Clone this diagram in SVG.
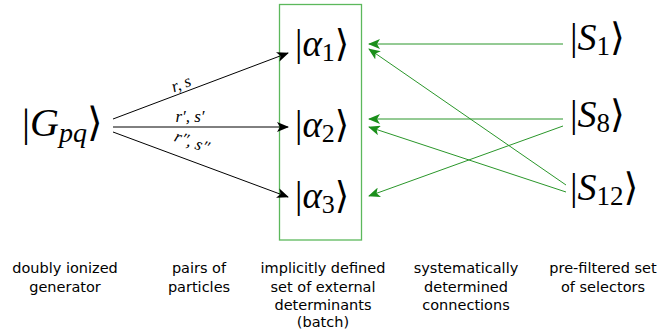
<svg xmlns="http://www.w3.org/2000/svg" width="657" height="331" viewBox="0 0 657 331">
<style>
.m{font-family:"Liberation Serif","DejaVu Serif",serif;fill:#000}
.i{font-style:italic}
.cap{font-family:"DejaVu Sans",sans-serif;font-size:14.5px;fill:#000;text-anchor:middle}
.bl{stroke:#000;stroke-width:1;fill:none}
.gr{stroke:#2a962a;stroke-width:1;fill:none}
.lbl{font-family:"Liberation Serif","DejaVu Serif",serif;font-size:17px;font-style:italic;text-anchor:middle}
</style>
<defs>
<marker id="ab" viewBox="0 0 12 10" refX="11" refY="5" markerWidth="12" markerHeight="10" markerUnits="userSpaceOnUse" orient="auto">
<path d="M0,0 L12,5 L0,10 L3,5 Z" fill="#000"/>
</marker>
<marker id="ag" viewBox="0 0 12 10" refX="11" refY="5" markerWidth="12" markerHeight="10" markerUnits="userSpaceOnUse" orient="auto">
<path d="M0,0 L12,5 L0,10 L3,5 Z" fill="#1a8f1a"/>
</marker>
</defs>
<rect x="279.5" y="4.5" width="82" height="235.5" fill="none" stroke="#5cb85c" stroke-width="1.3"/>
<g id="connectors">
<path class="bl" d="M113,119 L288,53" marker-end="url(#ab)"/>
<path class="bl" d="M113,127 L288,127" marker-end="url(#ab)"/>
<path class="bl" d="M113,132 L288,197" marker-end="url(#ab)"/>
<path class="gr" d="M563,44 L369,44" marker-end="url(#ag)"/>
<path class="gr" d="M566,185 L369,49" marker-end="url(#ag)"/>
<path class="gr" d="M563,119 L369,119" marker-end="url(#ag)"/>
<path class="gr" d="M566,192 L369,127" marker-end="url(#ag)"/>
<path class="gr" d="M563,126 L369,196" marker-end="url(#ag)"/>
<text class="lbl" transform="translate(183,89) rotate(-20.8)">r, s</text>
<text class="lbl" x="190" y="122">r′, s′</text>
<text class="lbl" transform="translate(190,147) rotate(20.5)">r″, s″</text>
</g>
<g id="Gpq"><text class="m" x="22" y="136" font-size="40">|<tspan class="i">G</tspan><tspan class="i" font-size="28" dy="6">pq</tspan><tspan dy="-6">⟩</tspan></text></g>
<g id="alpha1"><text class="m" x="295" y="56" font-size="37">|<tspan class="i">α</tspan><tspan font-size="26" dy="5">1</tspan><tspan dy="-5">⟩</tspan></text></g>
<g id="alpha2"><text class="m" x="295" y="137" font-size="37">|<tspan class="i">α</tspan><tspan font-size="26" dy="5">2</tspan><tspan dy="-5">⟩</tspan></text></g>
<g id="alpha3"><text class="m" x="295" y="208" font-size="37">|<tspan class="i">α</tspan><tspan font-size="26" dy="5">3</tspan><tspan dy="-5">⟩</tspan></text></g>
<g id="S1"><text class="m" x="570" y="50" font-size="38">|<tspan class="i">S</tspan><tspan font-size="27" dy="5">1</tspan><tspan dy="-5">⟩</tspan></text></g>
<g id="S8"><text class="m" x="570" y="127" font-size="38">|<tspan class="i">S</tspan><tspan font-size="27" dy="5">8</tspan><tspan dy="-5">⟩</tspan></text></g>
<g id="S12"><text class="m" x="570" y="200" font-size="38">|<tspan class="i">S</tspan><tspan font-size="27" dy="5">12</tspan><tspan dy="-5">⟩</tspan></text></g>
<g id="captions">
<text class="cap" x="65" y="273">doubly ionized</text>
<text class="cap" x="65" y="291.5">generator</text>
<text class="cap" x="199" y="273">pairs of</text>
<text class="cap" x="199" y="291.5">particles</text>
<text class="cap" x="323" y="273">implicitly defined</text>
<text class="cap" x="323" y="291.5">set of external</text>
<text class="cap" x="323" y="310">determinants</text>
<text class="cap" x="323" y="327">(batch)</text>
<text class="cap" x="466" y="273">systematically</text>
<text class="cap" x="466" y="291.5">determined</text>
<text class="cap" x="466" y="310">connections</text>
<text class="cap" x="603" y="273">pre-filtered set</text>
<text class="cap" x="603" y="291.5">of selectors</text>
</g>
</svg>
